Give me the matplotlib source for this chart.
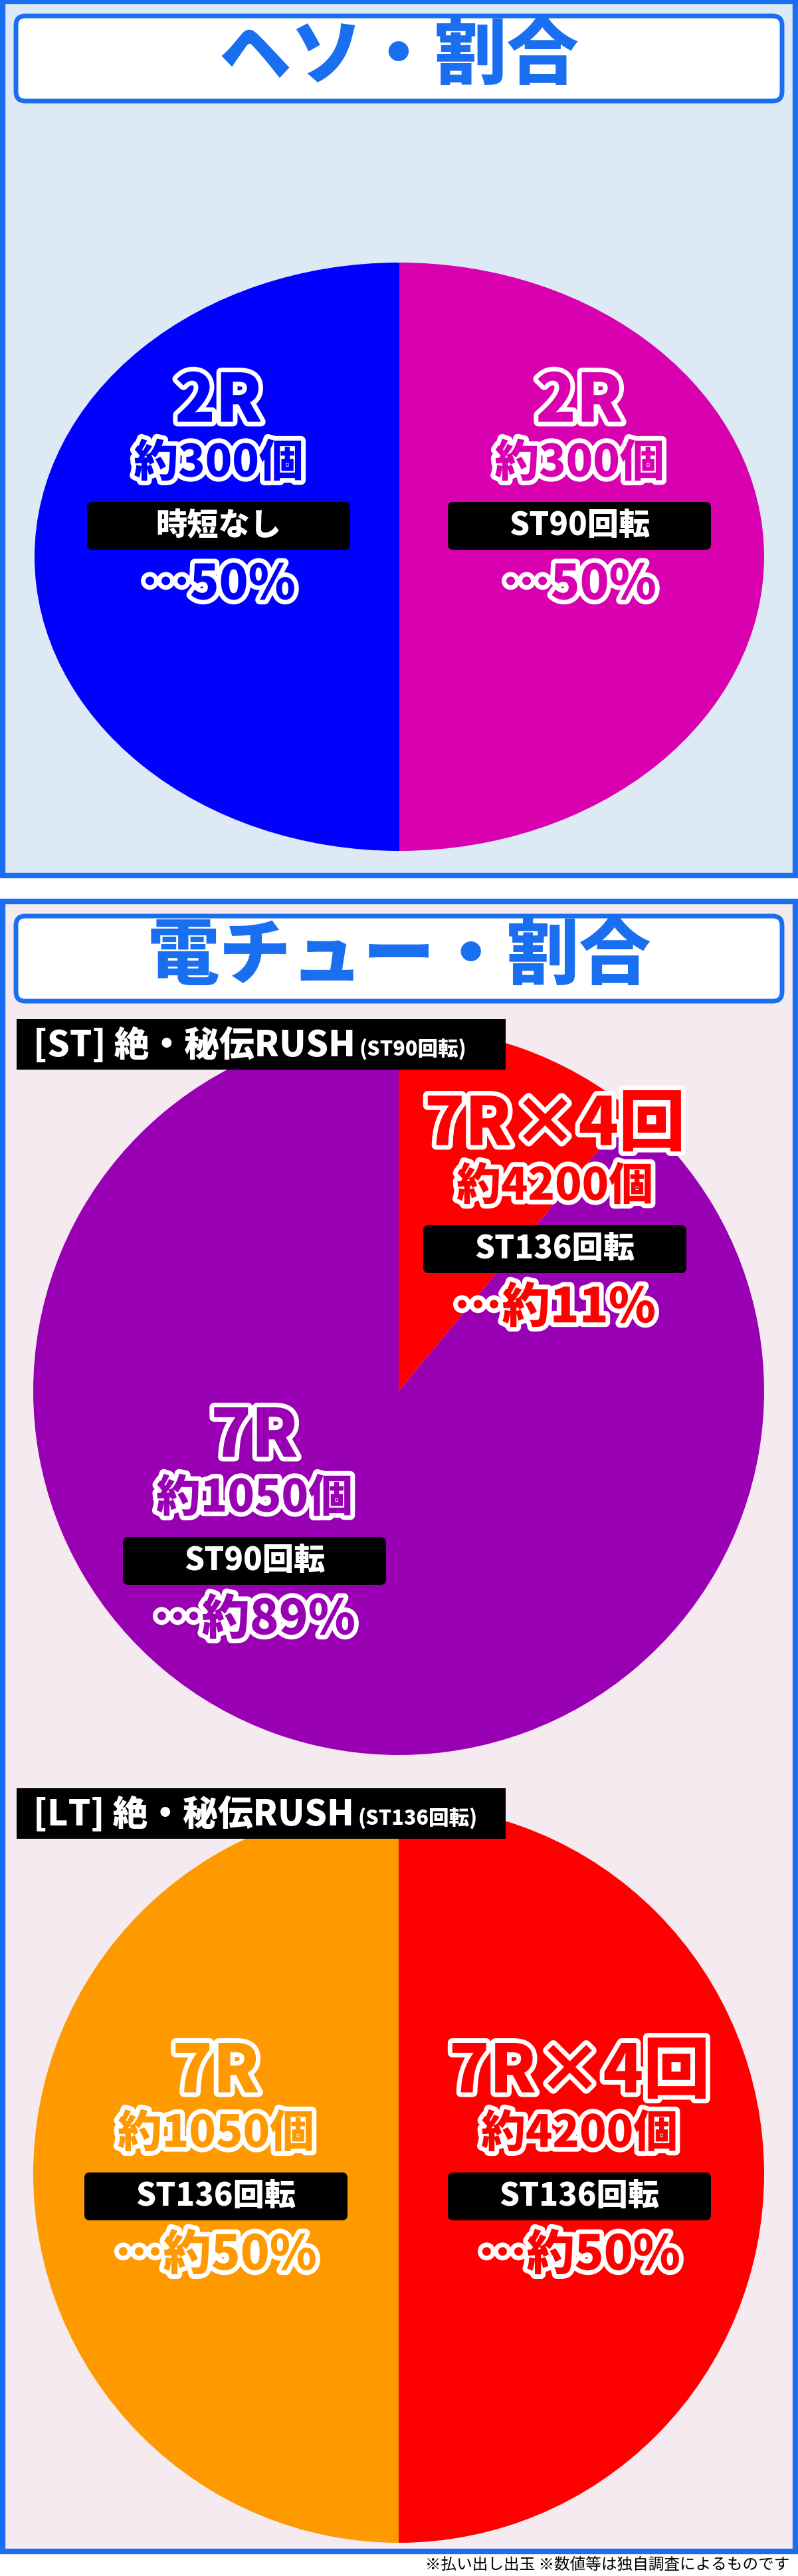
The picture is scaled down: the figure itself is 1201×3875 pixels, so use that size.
import matplotlib.pyplot as plt
import matplotlib.patheffects as pe
from matplotlib.patches import FancyBboxPatch, Rectangle

plt.rcParams['font.family'] = ['Noto Sans CJK JP', 'DejaVu Sans']

W, H = 1201, 3875

# data
heso_labels = ['時短なし', 'ST90回転']
heso_rounds = ['2R', '2R']
heso_balls = ['約300個', '約300個']
heso_share = [50, 50]
heso_pct = ['…50%', '…50%']
heso_colors = ['#0000ff', '#d900b0']

st_rounds = ['7R×4回', '7R']
st_balls = ['約4200個', '約1050個']
st_labels = ['ST136回転', 'ST90回転']
st_share = [11, 89]
st_pct = ['…約11%', '…約89%']
st_colors = ['#ff0000', '#9900b3']

lt_rounds = ['7R', '7R×4回']
lt_balls = ['約1050個', '約4200個']
lt_labels = ['ST136回転', 'ST136回転']
lt_share = [50, 50]
lt_pct = ['…約50%', '…約50%']
lt_colors = ['#ff9900', '#ff0000']

BORDER = '#1a6ef0'

fig = plt.figure(figsize=(W / 100, H / 100), dpi=100)
fig.patch.set_facecolor('white')
bg = fig.add_axes([0, 0, 1, 1], zorder=0)
bg.set_xlim(0, W)
bg.set_ylim(H, 0)
bg.axis('off')
top = fig.add_axes([0, 0, 1, 1], zorder=5)
top.set_xlim(0, W)
top.set_ylim(H, 0)
top.axis('off')
top.patch.set_alpha(0)


def panel(y0, y1, face, title):
    bg.add_patch(Rectangle((4, y0), W - 8, y1 - y0, facecolor=face, edgecolor=BORDER, lw=6))
    bg.add_patch(FancyBboxPatch((24, y0 + 22), W - 48, 128, boxstyle='round,pad=0,rounding_size=14',
                                facecolor='white', edgecolor=BORDER, lw=5))
    bg.text(W / 2, y0 + 84, title, color=BORDER, fontsize=78, fontweight='heavy',
            ha='center', va='center')


def pie_axes(x0, y0, x1, y1, vals, cols, counter):
    a = fig.add_axes([x0 / W, 1 - y1 / H, (x1 - x0) / W, (y1 - y0) / H], zorder=2)
    a.pie(vals, colors=cols, startangle=90, counterclock=counter, radius=1,
          wedgeprops=dict(linewidth=0))
    a.set_aspect('auto')
    a.set_xlim(-1, 1)
    a.set_ylim(-1, 1)
    a.axis('off')


def label(x, y, rnd, balls, box, pct, col, box_w=396, big=72):
    stroke = [pe.withStroke(linewidth=10, foreground='white')]
    top.text(x, y, rnd, color=col, fontsize=big, fontweight='heavy', ha='center', va='center',
             path_effects=stroke)
    top.text(x, y + 92, balls, color=col, fontsize=48, fontweight='heavy', ha='center', va='center',
             path_effects=stroke)
    top.add_patch(FancyBboxPatch((x - box_w / 2, y + 150), box_w, 72,
                                 boxstyle='round,pad=0,rounding_size=8', facecolor='black', lw=0))
    top.text(x, y + 186, box, color='white', fontsize=34, fontweight='heavy', ha='center', va='center')
    top.text(x, y + 275, pct, color=col, fontsize=52, fontweight='heavy', ha='center', va='center',
             path_effects=stroke)


def tag(y0, main, sub):
    top.add_patch(Rectangle((25, y0), 736, 76, facecolor='black', lw=0))
    t = top.text(50, y0 + 40, main, color='white', fontsize=38, fontweight='heavy', va='center')
    top.annotate(sub, xycoords=t, xy=(1, 0.5), xytext=(4, -4), textcoords='offset points',
                 color='white', fontsize=22, fontweight='heavy', va='center')


# ヘソ
panel(2, 1317, '#dde9f5', 'ヘソ・割合')
pie_axes(52, 395, 1150, 1280, heso_share, heso_colors, True)
for i, xc in enumerate([329, 872]):
    label(xc, 605, heso_rounds[i], heso_balls[i], heso_labels[i], heso_pct[i], heso_colors[i])

# 電チュー
panel(1356, 3838, '#f4eaf0', '電チュー・割合')
pie_axes(50, 1545, 1150, 2640, st_share, st_colors, False)
tag(1533, '[ST] 絶・秘伝RUSH', '(ST90回転)')
label(835, 1693, st_rounds[0], st_balls[0], st_labels[0], st_pct[0], st_colors[0])
label(383, 2162, st_rounds[1], st_balls[1], st_labels[1], st_pct[1], st_colors[1])

pie_axes(50, 2715, 1150, 3825, lt_share, lt_colors, True)
tag(2690, '[LT] 絶・秘伝RUSH', '(ST136回転)')
for i, xc in enumerate([325, 872]):
    label(xc, 3118, lt_rounds[i], lt_balls[i], lt_labels[i], lt_pct[i], lt_colors[i])

top.text(1188, 3858, '※払い出し出玉 ※数値等は独自調査によるものです', fontsize=17,
         ha='right', va='center', color='black')

fig.savefig('out.png', dpi=100)
